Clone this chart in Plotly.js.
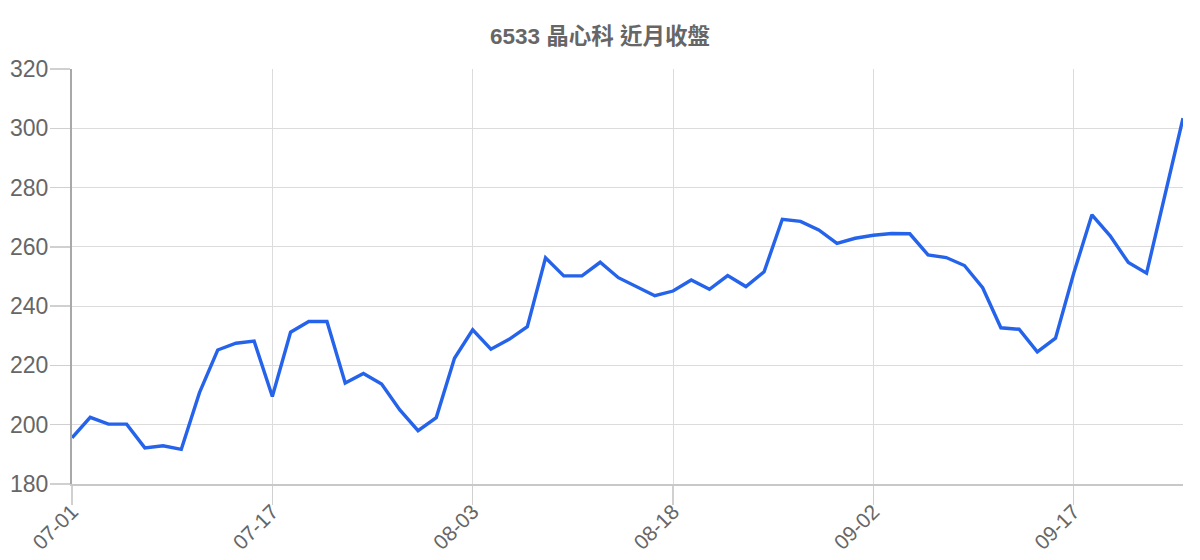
<!DOCTYPE html>
<html>
<head>
<meta charset="utf-8">
<script src="https://cdn.plot.ly/plotly-3.0.1.min.js"></script>
<style>
  body { margin: 0; background: #fff; }
  #chart { width: 1200px; height: 560px; }
</style>
</head>
<body>
<div id="chart"></div>
<script>
// trading days (MM-DD)
var dates = [
  '07-01','07-02','07-03','07-04','07-05','07-08','07-09','07-10','07-11','07-12','07-15',
  '07-17','07-18','07-19','07-22','07-23','07-26','07-29','07-30','07-31','08-01','08-02',
  '08-03','08-05','08-06','08-07','08-08','08-09','08-12','08-13','08-14','08-15','08-16',
  '08-18','08-19','08-20','08-21','08-22','08-23','08-26','08-27','08-28','08-29','08-30',
  '09-02','09-03','09-04','09-05','09-06','09-09','09-10','09-11','09-12','09-13','09-16',
  '09-17','09-18','09-19','09-20','09-23','09-24','09-25'
];

// closing price
var closes = [
  195.6, 202.5, 200.2, 200.2, 192.2, 192.9, 191.7, 210.8, 225.2, 227.5, 228.2,
  209.5, 231.2, 234.8, 234.8, 214.1, 217.3, 213.7, 205.0, 198.0, 202.4, 222.4,
  232.0, 225.5, 228.8, 233.1, 256.3, 250.2, 250.2, 254.8, 249.6, 246.5, 243.5,
  245.1, 248.8, 245.7, 250.3, 246.6, 251.6, 269.3, 268.6, 265.7, 261.2, 262.9,
  263.9, 264.5, 264.4, 257.3, 256.4, 253.7, 246.2, 232.7, 232.2, 224.6, 229.2,
  251.1, 270.8, 263.7, 254.7, 251.1, 276.9, 303.4
];

var tickLabels = ['07-01', '07-17', '08-03', '08-18', '09-02', '09-17'];
var yTicks = [180, 200, 220, 240, 260, 280, 300, 320];

var trace1 = {
  x: dates,
  y: closes,
  type: 'scatter',
  mode: 'lines',
  line: { color: '#2563eb', width: 3.4 },
  hoverinfo: 'x+y'
};

var layout = {
  width: 1200,
  height: 560,
  margin: { l: 72, r: 17, t: 69, b: 76 },
  paper_bgcolor: '#fff',
  plot_bgcolor: '#fff',
  font: { family: 'Liberation Sans, Arial, sans-serif', color: '#666' },
  title: {
    text: '<b>6533 晶心科 近月收盤</b>',
    x: 0.5,
    y: 0.95,
    xanchor: 'center',
    font: { size: 22.5, color: '#666', family: 'Liberation Sans, Noto Sans CJK TC, sans-serif' }
  },
  xaxis: {
    type: 'category',
    range: [0, dates.length - 1],
    tickmode: 'array',
    tickvals: tickLabels,
    ticktext: tickLabels,
    tickangle: -45,
    ticks: 'outside',
    ticklen: 19,
    tickcolor: '#d0d0d0',
    tickwidth: 1.5,
    ticklabelstandoff: -14,
    showgrid: true,
    gridcolor: '#dcdcdc',
    gridwidth: 1,
    showline: true,
    linecolor: '#c8c8c8',
    linewidth: 2,
    zeroline: false,
    tickfont: { size: 21, color: '#666' },
    fixedrange: true
  },
  yaxis: {
    range: [180, 320],
    tickmode: 'array',
    tickvals: yTicks,
    ticks: 'outside',
    ticklen: 20,
    tickcolor: '#d0d0d0',
    tickwidth: 1.5,
    ticklabelstandoff: -3,
    showgrid: true,
    gridcolor: '#dcdcdc',
    gridwidth: 1,
    showline: true,
    linecolor: '#a8a8a8',
    linewidth: 2,
    zeroline: false,
    tickfont: { size: 23, color: '#666' },
    fixedrange: true
  },
  showlegend: false
};

Plotly.newPlot('chart', [trace1], layout, { displayModeBar: false, staticPlot: true });
</script>
</body>
</html>
